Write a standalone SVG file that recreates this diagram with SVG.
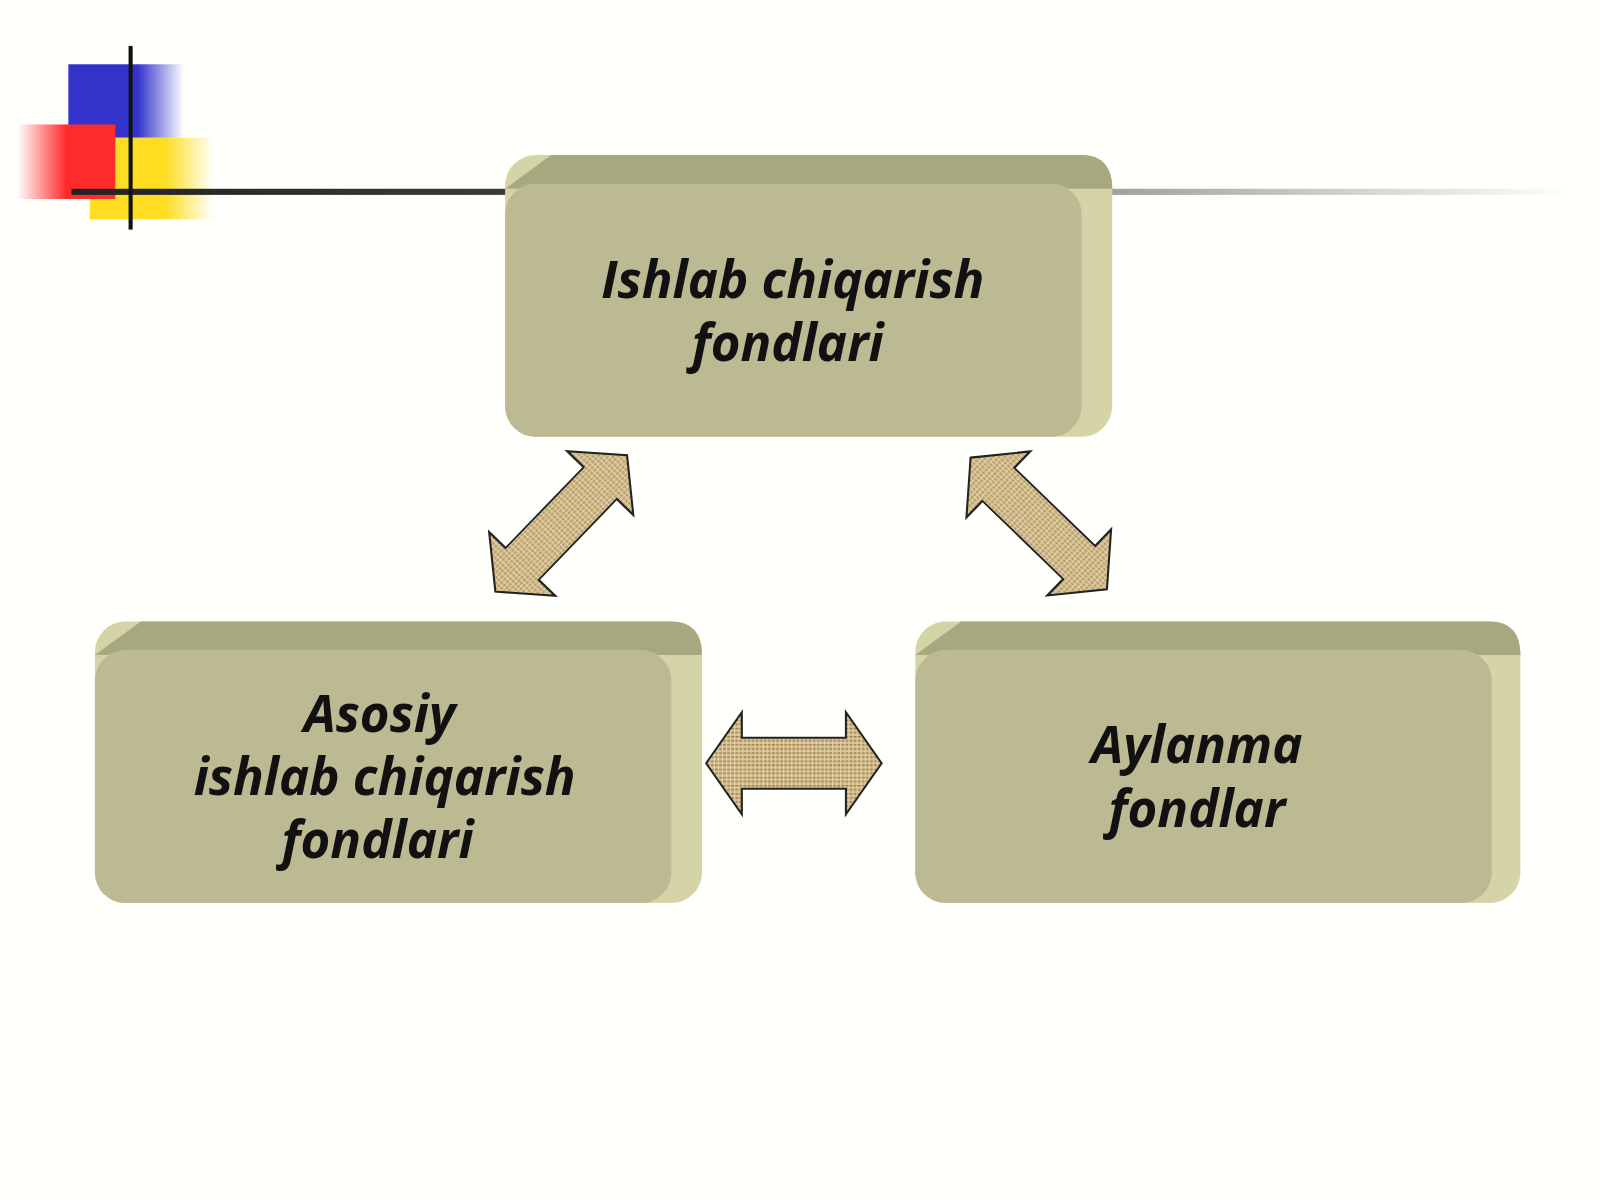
<svg xmlns="http://www.w3.org/2000/svg" width="1600" height="1200" viewBox="0 0 1600 1200">
<defs>
<style>
.t{font-family:"Open Sans","Noto Sans",sans-serif;font-weight:bold;font-style:italic;font-size:50px;fill:#111;text-anchor:middle}
.side{fill:#d5d4a6}.top{fill:#a8a880}.face{fill:#bbba92}
.arr{fill:url(#burlap);stroke:#222;stroke-width:2}
</style>
<linearGradient id="line" x1="0" x2="1"><stop offset="0" stop-color="#222"/><stop offset="0.4" stop-color="#444"/><stop offset="1" stop-color="#fff"/></linearGradient>
<linearGradient id="blue" x1="0" x2="1"><stop offset="0.6" stop-color="#3333cc"/><stop offset="1" stop-color="#fff"/></linearGradient>
<linearGradient id="red" x1="1" x2="0"><stop offset="0.5" stop-color="#ff2a2a"/><stop offset="1" stop-color="#fff"/></linearGradient>
<linearGradient id="yel" x1="0" x2="1"><stop offset="0.6" stop-color="#ffdd22"/><stop offset="1" stop-color="#fff"/></linearGradient>
<pattern id="burlap" width="8" height="8" patternUnits="userSpaceOnUse">
<rect width="8" height="8" fill="#d4bd8c"/><path d="M0 2h8M0 6h8" stroke="#9a7f50" stroke-width="1.2"/><path d="M2 0v8M6 0v8" stroke="#e8d8b0" stroke-width="1"/>
</pattern>
<path id="dbl" d="M-86 0 L-51 -50 L-51 -25 L51 -25 L51 -50 L86 0 L51 50 L51 25 L-51 25 L-51 50 Z"/>
</defs>
<rect width="1600" height="1200" fill="#fffffb"/>
<g transform="scale(1.0204)">
<g id="decor">
<rect x="67" y="63" width="113" height="72" fill="url(#blue)"/>
<rect x="88" y="135" width="122" height="80" fill="url(#yel)"/>
<rect x="17" y="122" width="96" height="73" fill="url(#red)"/>
<rect x="70" y="185" width="1470" height="6" fill="url(#line)"/>
<rect x="126" y="45" width="4" height="180" fill="#111"/>
</g>
<g id="n1">
<rect class="side" x="495" y="152" width="595" height="276" rx="30"/>
<path class="top" d="M495 185 L540 152 L1060 152 Q1090 152 1090 185 L1060 185 Z"/>
<rect class="face" x="495" y="180" width="565" height="248" rx="30"/>
<text class="t" x="777" y="292">Ishlab chiqarish</text>
<text class="t" x="772" y="354">fondlari</text>
</g>
<g id="n2">
<rect class="side" x="93" y="609" width="595" height="276" rx="30"/>
<path class="top" d="M93 642 L138 609 L658 609 Q688 609 688 642 L658 642 Z"/>
<rect class="face" x="93" y="637" width="565" height="248" rx="30"/>
<text class="t" x="372" y="717">Asosiy</text>
<text class="t" x="377" y="779">ishlab chiqarish</text>
<text class="t" x="370" y="841">fondlari</text>
</g>
<g id="n3">
<rect class="side" x="897" y="609" width="593" height="276" rx="30"/>
<path class="top" d="M897 642 L942 609 L1460 609 Q1490 609 1490 642 L1460 642 Z"/>
<rect class="face" x="897" y="637" width="565" height="248" rx="30"/>
<text class="t" x="1173" y="748">Aylanma</text>
<text class="t" x="1173" y="810">fondlar</text>
</g>
<g id="connectors">
<use href="#dbl" class="arr" transform="translate(550,513) rotate(-46) scale(1.08,0.9)"/>
<use href="#dbl" class="arr" transform="translate(1018,513) rotate(44) scale(1.08,0.9)"/>
<use href="#dbl" class="arr" transform="translate(778,748)"/>
</g>
</g>
</svg>
